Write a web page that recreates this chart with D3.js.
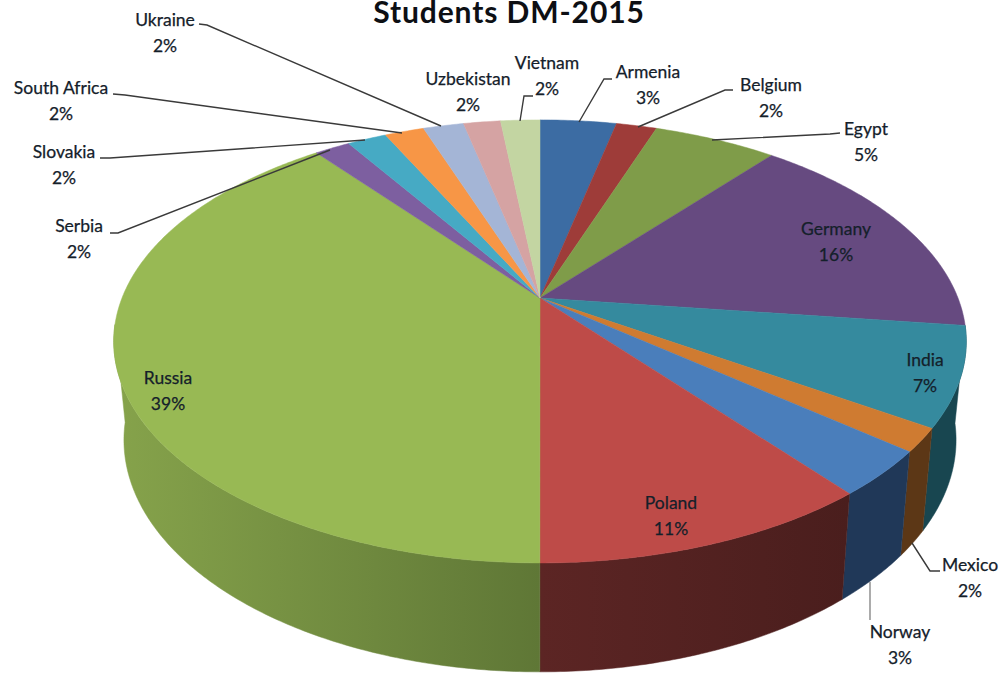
<!DOCTYPE html>
<html>
<head>
<meta charset="utf-8">
<script src="https://cdnjs.cloudflare.com/ajax/libs/d3/7.8.5/d3.min.js"></script>
<style>
  html, body { margin: 0; padding: 0; background: #fff; }
  svg { display: block; }
  text { font-family: Lato, "Open Sans", sans-serif; }
</style>
</head>
<body>
<script>
var countries = ["Armenia", "Belgium", "Egypt", "Germany", "India", "Mexico", "Norway", "Poland",
                 "Russia", "Serbia", "Slovakia", "South Africa", "Ukraine", "Uzbekistan", "Vietnam"];
var shares = [3.5, 1.86, 5.64, 16, 7.2, 1.7, 3.3, 10.8, 39.4, 1.63, 1.8, 1.8, 1.86, 1.7, 1.8];
var percentLabels = ["3%", "2%", "5%", "16%", "7%", "2%", "3%", "11%", "39%", "2%", "2%", "2%", "2%", "2%", "2%"];

var topColors = ["#3c6ca3", "#9e3c39", "#7f9c49", "#664a80", "#358a9e", "#cf7b31", "#4a7ebb", "#be4b48",
                 "#98b954", "#7d5fa0", "#46aac4", "#f79646", "#a4b5d6", "#d5a3a3", "#c3d5a2"];
var sideColors = {
  "India": ["#184650", "#184650"],
  "Mexico": ["#5c3716", "#5c3716"],
  "Norway": ["#203858", "#203858"],
  "Poland": ["#5c2524", "#4a1e1d"],
  "Russia": ["#86a34b", "#5f7736"]
};

// label centre and leader line, by country
var labelPlace = {
  "Armenia": [648, 72], "Belgium": [771, 85], "Egypt": [866, 129], "Germany": [836, 229], "India": [925, 360],
  "Mexico": [970, 565], "Norway": [900, 632], "Poland": [671, 503], "Russia": [168, 378], "Serbia": [79, 226],
  "Slovakia": [64, 152], "South Africa": [61, 88], "Ukraine": [165, 20], "Uzbekistan": [468, 79], "Vietnam": [547, 63]
};
var leaders = {
  "Armenia": [[612, 79], [604, 79], [579, 122]],
  "Belgium": [[733, 90], [725, 90], [638, 127]],
  "Egypt": [[840, 133], [830, 134], [712, 140]],
  "Mexico": [[940, 571], [930, 571], [912, 543]],
  "Norway": [[870, 620], [870, 582]],
  "Serbia": [[110, 233], [118, 233], [330, 150]],
  "Slovakia": [[100, 158], [110, 158], [365, 140]],
  "South Africa": [[113, 94], [125, 95], [402, 133]],
  "Ukraine": [[199, 24], [207, 25], [441, 126]],
  "Vietnam": [[533, 96], [524, 96], [520, 121]]
};

var width = 1003,
    height = 674;

var svg = d3.select("body").append("svg")
    .attr("width", width)
    .attr("height", height);

// the pie is a circle seen in perspective, k is how much nearer the front edge is
var k = 0.196;
var xTop = d3.scaleLinear().domain([-1, 1]).range([540 - 418, 540 + 418]);
var yTop = d3.scaleLinear().domain([-1, 1]).range([298 - 213, 298 + 213]);
var xBottom = d3.scaleLinear().domain([-1, 1]).range([540 - 408, 540 + 408]);
var yBottom = d3.scaleLinear().domain([-1, 1]).range([394.5 - 223, 394.5 + 223]);

function rim(a, xs, ys) {
  var u = Math.sin(a), v = -Math.cos(a), w = 1 - k * v;
  return [xs(u / w), ys(v / w)];
}

function samples(a0, a1) {
  var n = Math.max(2, Math.ceil((a1 - a0) / 0.01));
  return d3.range(n + 1).map(function(i) { return a0 + (a1 - a0) * i / n; });
}

var pie = d3.pie().sort(null).value(function(d) { return d; });
var arcs = pie(shares);
var line = d3.line();

var defs = svg.append("defs");

// sides first, only the front part of the rim shows
var frontStart = 97 * Math.PI / 180,
    frontEnd = 263 * Math.PI / 180;

arcs.forEach(function(d, i) {
  var a0 = Math.max(d.startAngle, frontStart),
      a1 = Math.min(d.endAngle, frontEnd);
  if (a1 <= a0 || !sideColors[countries[i]]) return;

  var as = samples(a0, a1);
  var top = as.map(function(a) { return rim(a, xTop, yTop); });
  var bottom = as.map(function(a) { return rim(a, xBottom, yBottom); }).reverse();

  var id = "side" + i;
  var xs = d3.extent(top.concat(bottom), function(p) { return p[0]; });
  var g = defs.append("linearGradient").attr("id", id)
      .attr("gradientUnits", "userSpaceOnUse")
      .attr("x1", xs[0]).attr("x2", xs[1]).attr("y1", 0).attr("y2", 0);
  g.append("stop").attr("offset", 0).attr("stop-color", sideColors[countries[i]][0]);
  g.append("stop").attr("offset", 1).attr("stop-color", sideColors[countries[i]][1]);

  svg.append("path")
      .attr("d", line(top.concat(bottom)) + "Z")
      .attr("fill", "url(#" + id + ")")
      .attr("stroke", "url(#" + id + ")")
      .attr("stroke-width", 0.5);
});

// top of the pie
svg.selectAll("path.slice")
    .data(arcs)
  .enter().append("path")
    .attr("class", "slice")
    .attr("d", function(d) {
      var pts = samples(d.startAngle, d.endAngle).map(function(a) { return rim(a, xTop, yTop); });
      return line([[xTop(0), yTop(0)]].concat(pts)) + "Z";
    })
    .attr("fill", function(d, i) { return topColors[i]; })
    .attr("stroke", function(d, i) { return topColors[i]; })
    .attr("stroke-width", 0.5);

// leader lines
countries.forEach(function(name) {
  if (!leaders[name]) return;
  svg.append("path")
      .attr("d", line(leaders[name]))
      .attr("fill", "none")
      .attr("stroke", name == "Norway" ? "#888" : "#3a3a3a")
      .attr("stroke-width", 1.4);
});

// labels
function label(x, y, s) {
  svg.append("text")
      .attr("x", x).attr("y", y).attr("dy", "0.35em")
      .attr("text-anchor", "middle")
      .attr("font-size", 17.5)
      .attr("fill", "#14202a")
      .attr("stroke", "#14202a")
      .attr("stroke-width", 0.25)
      .text(s);
}

countries.forEach(function(name, i) {
  var p = labelPlace[name];
  label(p[0], p[1], name);
  label(p[0], p[1] + 26, percentLabels[i]);
});

svg.append("text")
    .attr("x", 509).attr("y", 23)
    .attr("text-anchor", "middle")
    .attr("font-size", 30)
    .attr("font-weight", "bold")
    .attr("letter-spacing", 0.9)
    .attr("fill", "#0d0f14")
    .text("Students DM-2015");
</script>
</body>
</html>
